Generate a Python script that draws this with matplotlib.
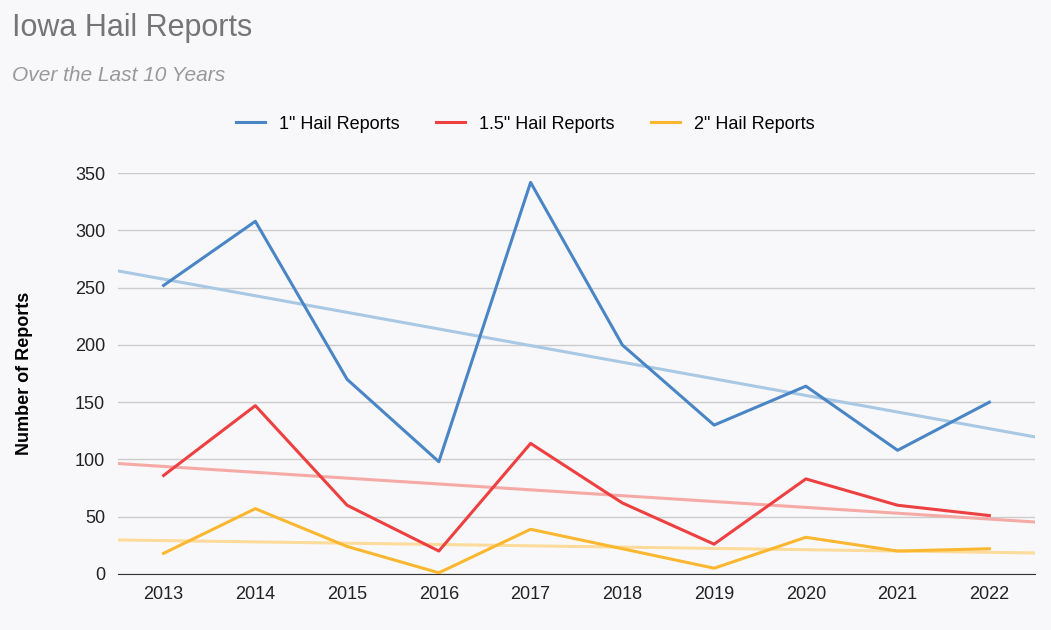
import numpy as np
import matplotlib.pyplot as plt

plt.rcParams['font.family'] = ['Liberation Sans', 'DejaVu Sans']

years = [2013, 2014, 2015, 2016, 2017, 2018, 2019, 2020, 2021, 2022]
hail_1in = [252, 308, 170, 98, 342, 200, 130, 164, 108, 150]
hail_15in = [86, 147, 60, 20, 114, 62, 26, 83, 60, 51]
hail_2in = [18, 57, 24, 1, 39, 22, 5, 32, 20, 22]

series = [
    ('1" Hail Reports', hail_1in, "#4a86c5", "#a9c8e4"),
    ('1.5" Hail Reports', hail_15in, "#ee4040", "#f6aaa6"),
    ('2" Hail Reports', hail_2in, "#fbb730", "#fddb9a"),
]

bg = "#f8f8fa"
fig = plt.figure(figsize=(10.51, 6.3), dpi=100, facecolor=bg)
ax = fig.add_axes([0.112, 0.089, 0.873, 0.636], facecolor=bg)

x = np.array(years)
xt = np.array([2012.5, 2022.5])
for name, vals, c, tc in series:
    k, b = np.polyfit(x, vals, 1)
    ax.plot(xt, k * xt + b, color=tc, lw=2.2, zorder=2)
for name, vals, c, tc in series:
    ax.plot(x, vals, color=c, lw=2.2, label=name, zorder=3)

ax.set_xlim(2012.5, 2022.5)
ax.set_ylim(0, 350)
ax.set_yticks(range(0, 351, 50))
ax.set_xticks(years)
ax.tick_params(length=0, labelsize=13, colors="#222222", pad=9)
ax.grid(axis="y", color="#cccccc", lw=1)
for s in ["top", "right", "left"]:
    ax.spines[s].set_visible(False)
ax.spines["bottom"].set_color("#333333")
ax.set_ylabel("Number of Reports", fontsize=13, fontweight="bold", labelpad=30)

fig.text(0.011, 0.955, "Iowa Hail Reports", fontsize=22, color="#757575", va="center")
fig.text(0.011, 0.88, "Over the Last 10 Years", fontsize=15, color="#999999",
         style="italic", va="center")
fig.legend(loc="center", bbox_to_anchor=(0.5, 0.803), ncol=3, frameon=False,
           fontsize=13, handlelength=1.6, columnspacing=2.0)

fig.savefig("out.png", dpi=100, facecolor=bg)
